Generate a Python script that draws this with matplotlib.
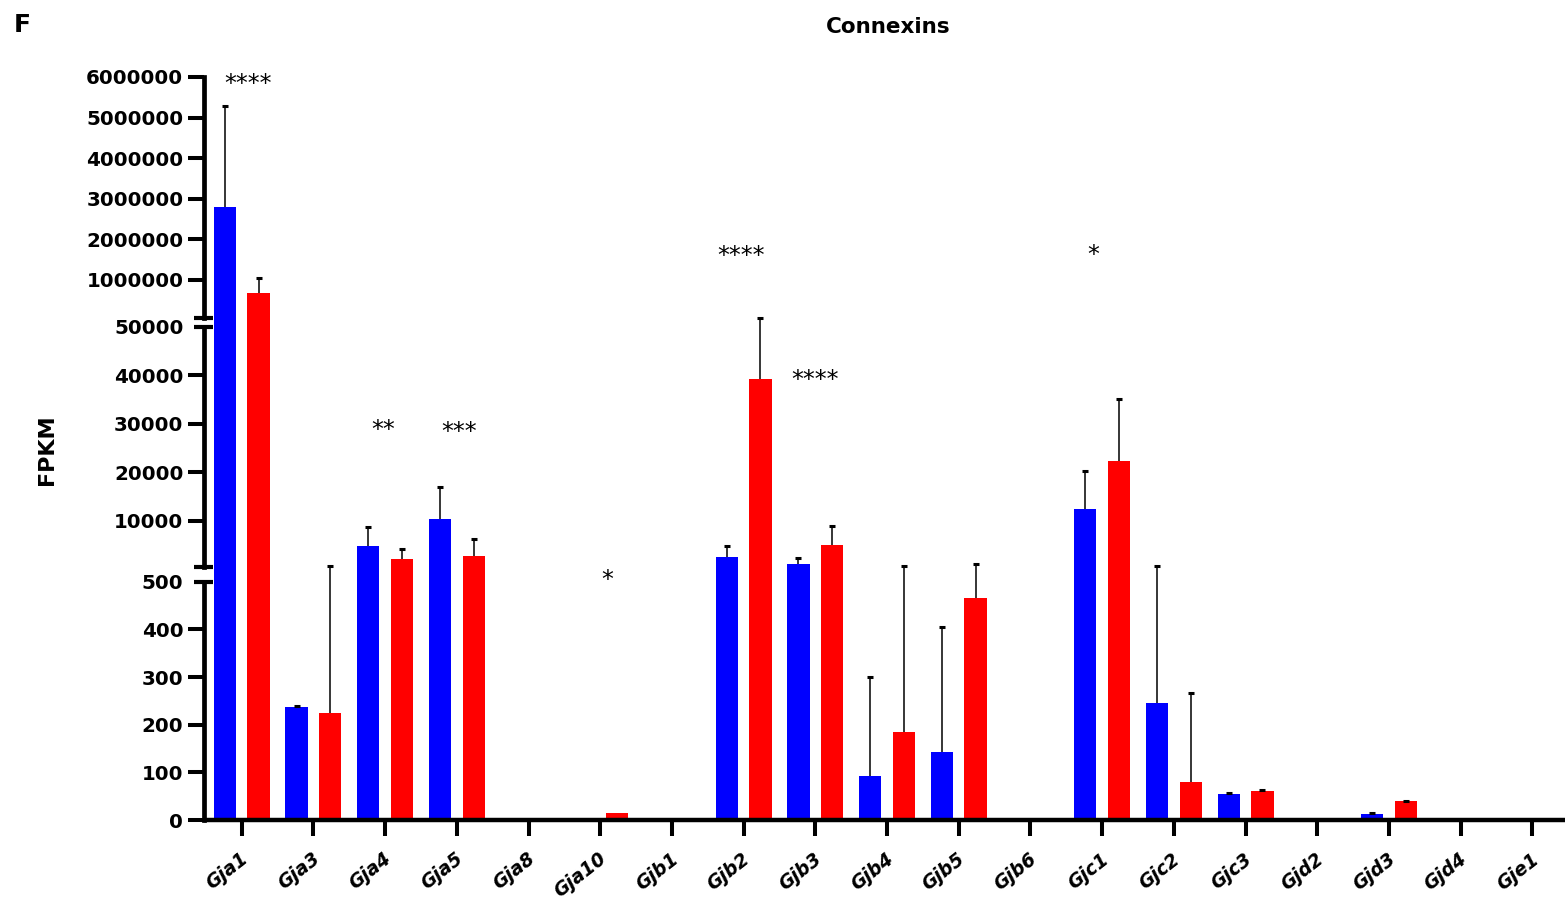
import numpy as np
import matplotlib
matplotlib.use("Agg")
import matplotlib.pyplot as plt
from matplotlib import transforms as mtransforms

plt.rcParams["font.family"] = ["DejaVu Sans"]

# ---- data -------------------------------------------------------------
genes = ["Gja1", "Gja3", "Gja4", "Gja5", "Gja8", "Gja10", "Gjb1", "Gjb2",
         "Gjb3", "Gjb4", "Gjb5", "Gjb6", "Gjc1", "Gjc2", "Gjc3", "Gjd2",
         "Gjd3", "Gjd4", "Gje1"]

blue_mean = [2800000, 238, 4770, 10280, 0, 0, 0, 2440, 995, 92, 143, 0,
             12400, 245, 54, 0, 13, 0, 0]
blue_sd = [2480000, 2, 3980, 6720, 0, 0, 0, 2390, 1235, 208, 262, 0,
           7900, 455, 2, 0, 1, 0, 0]

red_mean = [660000, 224, 2030, 2710, 0, 15, 0, 39200, 4910, 185, 466, 0,
            22300, 80, 60, 0, 39, 0, 0]
red_sd = [385000, 336, 2180, 3440, 0, 0, 0, 12800, 4050, 385, 654, 0,
          12850, 187, 2, 0, 1.5, 0, 0]

sig_genes = ["Gja1", "Gja4", "Gja5", "Gja10", "Gjb2", "Gjb3", "Gjc1"]
sig_marks = ["****", "**", "***", "*", "****", "****", "*"]
sig_level = [5.66e6, 27230, 26830, 488, 1.41e6, 37500, 1.43e6]
sig_shift = [0.09, -0.03, 0.03, 0.10, -0.04, 0.0, -0.125]

y_ticks = [0, 100, 200, 300, 400, 500, 10000, 20000, 30000, 40000, 50000,
           1000000, 2000000, 3000000, 4000000, 5000000, 6000000]

# ---- broken (three-segment) y scale --------------------------------------
B1, B2, YMAX = 500.0, 50000.0, 6000000.0
U1_TOP, U2_BOT, U2_TOP, U3_BOT, U3_TOP = 238.3, 253.3, 493.3, 502.0, 743.0
R1 = U1_TOP / B1
R2 = (U2_TOP - U2_BOT) / (B2 - B1)
R3 = (U3_TOP - U3_BOT) / (YMAX - B2)


def forward(v):
    v = np.asarray(v, dtype=float)
    s1 = v * R1
    s2 = U2_BOT + (v - B1) * R2
    s3 = U3_BOT + (v - B2) * R3
    return np.where(v <= B1, s1, np.where(v <= B2, s2, s3))


def inverse(u):
    u = np.asarray(u, dtype=float)
    v1 = u / R1
    v2 = B1 + (u - U2_BOT) / R2
    v3 = B2 + (u - U3_BOT) / R3
    return np.where(u <= U1_TOP, v1,
                    np.where(u < U2_BOT, B1,
                             np.where(u <= U2_TOP, v2,
                                      np.where(u < U3_BOT, B2, v3))))


# ---- figure ------------------------------------------------------------
W, H = 1565, 901
fig = plt.figure(figsize=(W / 100, H / 100), dpi=100)
ax = fig.add_axes([203.5 / W, (H - 820) / H, 1364.7 / W, U3_TOP / H])
ax.set_yscale("function", functions=(forward, inverse))

x = np.arange(len(genes))
bw = 0.31
off = 0.235
blue = "#0000ff"
red = "#ff0000"

ax.bar(x - off, blue_mean, width=bw, color=blue, linewidth=0, zorder=2)
ax.bar(x + off, red_mean, width=bw, color=red, linewidth=0, zorder=2)

# upper-only error bars (mean + SD)
cap = 0.042
for xs, m, s in ((x - off, blue_mean, blue_sd), (x + off, red_mean, red_sd)):
    m = np.asarray(m, float)
    s = np.asarray(s, float)
    k = s > 0
    ax.vlines(xs[k], m[k], m[k] + s[k], color="black", linewidth=1.1, zorder=3)
    ax.hlines(m[k] + s[k], xs[k] - cap, xs[k] + cap, color="black",
              linewidth=2.2, zorder=3)

ax.set_xlim(-0.533, 18.5)
ax.set_ylim(0, YMAX)

# axes styling
for side in ("top", "right", "left"):
    ax.spines[side].set_visible(False)
ax.spines["bottom"].set_linewidth(3.2)
ax.spines["bottom"].set_capstyle("butt")

# segmented left axis with break caps
ytr = mtransforms.blended_transform_factory(ax.transAxes, ax.transData)
eps = 1e-9
segments = [(0.0, B1), (B1 * (1 + eps), B2), (B2 * (1 + eps), YMAX)]
for lo, hi in segments:
    ax.plot([0, 0], [lo, hi], color="black", lw=3.4, transform=ytr,
            clip_on=False, solid_capstyle="projecting", zorder=4)
for yv in (B1, B1 * (1 + eps), B2, B2 * (1 + eps)):
    ax.plot([-0.007, 0.007], [yv, yv], color="black", lw=3.0, transform=ytr,
            clip_on=False, solid_capstyle="butt", zorder=4)

ax.set_yticks(y_ticks)
ax.set_yticklabels([f"{int(t)}" for t in y_ticks])
ax.yaxis.set_minor_locator(matplotlib.ticker.NullLocator())
ax.tick_params(axis="y", length=11.5, width=2.9, pad=3, labelsize=14.3)
for t in ax.yaxis.get_major_ticks():
    t.label1.set_fontweight("bold")
    if t.get_loc() in (B1, B2):
        t.tick1line.set_visible(False)

ax.set_xticks(x)
ax.set_xticklabels(genes, rotation=38, ha="right", va="center",
                   rotation_mode="anchor", fontsize=13.5, fontweight="bold",
                   fontstyle="italic")
ax.tick_params(axis="x", length=11.5, width=2.9, pad=15)
shift = mtransforms.ScaledTranslation(3 / 72, 0, fig.dpi_scale_trans)
for lab in ax.get_xticklabels():
    lab.set_transform(lab.get_transform() + shift)

# significance marks
for g, mk, lv, dx in zip(sig_genes, sig_marks, sig_level, sig_shift):
    ax.text(genes.index(g) + dx, lv, mk, ha="center", va="baseline",
            fontsize=17, clip_on=False, zorder=5)

fig.text(47 / W, 1 - 450 / H, "FPKM", rotation=90, ha="center",
         va="center", fontsize=16, fontweight="bold")
fig.text(888 / W, 1 - 27 / H, "Connexins", ha="center", va="center",
         fontsize=15.5, fontweight="bold")
fig.text(14 / W, 1 - 13 / H, "F", ha="left", va="top", fontsize=18,
         fontweight="bold")

fig.savefig("out.png", dpi=100)
